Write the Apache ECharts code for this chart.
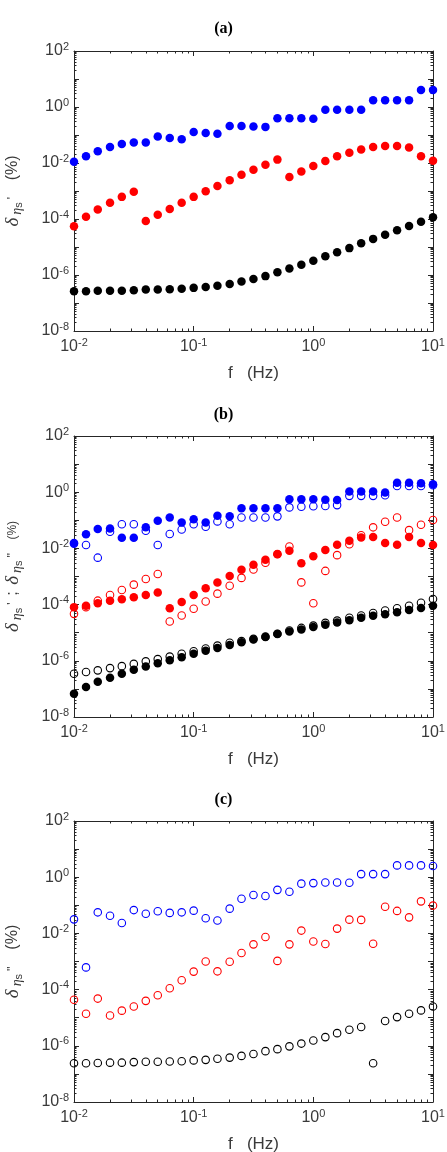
<!DOCTYPE html>
<html>
<head>
<meta charset="utf-8">
<script src="https://cdn.jsdelivr.net/npm/echarts@6/dist/echarts.min.js"></script>
<style>
  html, body { margin: 0; padding: 0; background: #fff; }
  #chart { width: 447px; height: 1152px; }
</style>
</head>
<body>
<div id="chart"></div>
<script>
// frequency (Hz), 10 points per decade
var freq = [0.01, 0.0126, 0.0158, 0.02, 0.0251, 0.0316, 0.0398, 0.0501, 0.0631, 0.0794,
            0.1, 0.126, 0.158, 0.2, 0.251, 0.316, 0.398, 0.501, 0.631, 0.794,
            1, 1.26, 1.58, 2, 2.51, 3.16, 3.98, 5.01, 6.31, 7.94, 10];

// (a) delta eta_s'  (%)
var aBlue = [1.1e-2, 1.74e-2, 2.63e-2, 3.72e-2, 4.79e-2, 5.37e-2, 5.37e-2, 8.91e-2, 7.76e-2, 7.08e-2,
             1.29e-1, 1.17e-1, 1.1e-1, 2.09e-1, 2.09e-1, 2.0e-1, 1.95e-1, 3.98e-1, 3.98e-1, 3.98e-1,
             3.8e-1, 7.94e-1, 7.94e-1, 7.94e-1, 7.94e-1, 1.74, 1.74, 1.74, 1.74, 4.07, 4.07];
var aRed = [5.5e-5, 1.2e-4, 2.19e-4, 3.8e-4, 6.17e-4, 9.33e-4, 8.51e-5, 1.41e-4, 2.29e-4, 3.8e-4,
            6.17e-4, 9.77e-4, 1.51e-3, 2.4e-3, 3.8e-3, 5.75e-3, 8.71e-3, 1.32e-2, 3.16e-3, 5.01e-3,
            7.76e-3, 1.17e-2, 1.74e-2, 2.34e-2, 3.02e-2, 3.72e-2, 4.07e-2, 4.07e-2, 3.55e-2, 1.74e-2, 1.2e-2];
var aBlack = [2.63e-7, 2.63e-7, 2.75e-7, 2.75e-7, 2.75e-7, 2.88e-7, 3.02e-7, 3.02e-7, 3.09e-7, 3.24e-7,
              3.47e-7, 3.72e-7, 4.17e-7, 4.79e-7, 5.89e-7, 7.24e-7, 9.12e-7, 1.26e-6, 1.70e-6, 2.34e-6,
              3.24e-6, 4.68e-6, 6.46e-6, 9.12e-6, 1.35e-5, 1.95e-5, 2.75e-5, 3.98e-5, 5.62e-5, 7.94e-5, 1.15e-4];

// (b) filled = eta_s', open = eta_s''
var bBlueF = [1.55e-2, 3.16e-2, 4.9e-2, 5.13e-2, 2.4e-2, 2.4e-2, 5.62e-2, 9.55e-2, 1.26e-1, 8.32e-2,
              1.1e-1, 8.32e-2, 1.45e-1, 1.38e-1, 2.69e-1, 2.69e-1, 2.69e-1, 2.69e-1, 5.62e-1, 5.62e-1,
              5.62e-1, 5.37e-1, 5.25e-1, 1.05, 1.05, 1.05, 0.98, 2.19, 2.19, 2.09, 1.91];
var bBlueO = [1.48e-2, 1.32e-2, 4.68e-3, 3.89e-2, 7.24e-2, 7.24e-2, 4.27e-2, 1.32e-2, 3.24e-2, 4.68e-2,
              7.24e-2, 5.89e-2, 9.12e-2, 7.24e-2, 1.26e-1, 1.26e-1, 1.26e-1, 1.38e-1, 2.88e-1, 3.02e-1,
              3.16e-1, 3.24e-1, 3.47e-1, 7.41e-1, 7.41e-1, 7.41e-1, 7.76e-1, 1.66, 1.66, 1.66, 1.78];
var bRedF = [8.13e-5, 9.12e-5, 1.12e-4, 1.38e-4, 1.55e-4, 1.82e-4, 2.19e-4, 2.69e-4, 7.41e-5, 1.23e-4,
             2.19e-4, 3.8e-4, 6.17e-4, 1.05e-3, 1.74e-3, 2.63e-3, 3.98e-3, 6.17e-3, 8.32e-3, 2.95e-3,
             5.25e-3, 8.71e-3, 1.35e-2, 1.86e-2, 2.45e-2, 2.57e-2, 1.55e-2, 1.35e-2, 2.57e-2, 1.55e-2, 1.32e-2];
var bRedO = [4.68e-5, 8.13e-5, 1.38e-4, 2.19e-4, 3.31e-4, 5.13e-4, 8.13e-4, 1.23e-3, 2.51e-5, 4.07e-5,
             7.08e-5, 1.29e-4, 2.45e-4, 4.68e-4, 8.91e-4, 1.78e-3, 3.09e-3, 6.31e-3, 1.17e-2, 6.17e-4,
             1.12e-4, 1.58e-3, 5.75e-3, 1.41e-2, 2.95e-2, 5.62e-2, 8.91e-2, 1.26e-1, 4.47e-2, 6.92e-2, 1.02e-1];
var bBlackF = [6.76e-8, 1.17e-7, 1.78e-7, 2.51e-7, 3.47e-7, 4.79e-7, 6.31e-7, 8.13e-7, 1.05e-6, 1.35e-6,
               1.78e-6, 2.29e-6, 2.88e-6, 3.63e-6, 4.57e-6, 5.75e-6, 7.08e-6, 8.91e-6, 1.10e-5, 1.29e-5,
               1.58e-5, 1.91e-5, 2.29e-5, 2.75e-5, 3.39e-5, 3.98e-5, 4.57e-5, 5.37e-5, 6.46e-5, 7.59e-5, 9.12e-5];
var bBlackO = [3.47e-7, 3.98e-7, 4.57e-7, 5.50e-7, 6.46e-7, 7.76e-7, 9.55e-7, 1.15e-6, 1.41e-6, 1.78e-6,
               2.19e-6, 2.75e-6, 3.47e-6, 4.37e-6, 5.01e-6, 6.03e-6, 7.24e-6, 9.12e-6, 1.20e-5, 1.48e-5,
               1.78e-5, 2.24e-5, 2.69e-5, 3.39e-5, 4.07e-5, 5.01e-5, 6.17e-5, 7.41e-5, 9.12e-5, 1.17e-4, 1.58e-4];

// (c) delta eta_s''  (%)
var cBlue = [3.16e-2, 6.17e-4, 5.62e-2, 4.27e-2, 2.34e-2, 6.76e-2, 5.01e-2, 6.17e-2, 5.37e-2, 5.62e-2,
             6.46e-2, 3.47e-2, 2.88e-2, 7.59e-2, 1.70e-1, 2.34e-1, 2.14e-1, 3.55e-1, 3.02e-1, 5.89e-1,
             6.17e-1, 6.46e-1, 6.46e-1, 6.31e-1, 1.29, 1.29, 1.29, 2.63, 2.63, 2.63, 2.51];
var cRed = [4.37e-5, 1.38e-5, 4.79e-5, 1.20e-5, 1.78e-5, 2.51e-5, 3.98e-5, 6.31e-5, 1.12e-4, 2.14e-4,
            4.37e-4, 1.0e-3, 4.47e-4, 9.77e-4, 2.0e-3, 4.07e-3, 7.41e-3, 1.05e-3, 4.07e-3, 1.26e-2,
            5.13e-3, 4.17e-3, 1.48e-2, 3.09e-2, 3.02e-2, 4.27e-3, 8.91e-2, 6.31e-2, 3.72e-2, 1.38e-1, 9.77e-2];
var cBlack = [2.40e-7, 2.40e-7, 2.45e-7, 2.51e-7, 2.51e-7, 2.63e-7, 2.69e-7, 2.69e-7, 2.75e-7, 2.82e-7,
              3.02e-7, 3.16e-7, 3.47e-7, 3.80e-7, 4.37e-7, 5.13e-7, 6.46e-7, 7.59e-7, 9.55e-7, 1.20e-6,
              1.55e-6, 2.04e-6, 2.82e-6, 3.72e-6, 4.68e-6, 2.40e-7, 7.59e-6, 1.05e-5, 1.38e-5, 1.82e-5, 2.51e-5];

// tick positions
var xMajor = [0.01, 0.1, 1, 10];
var yMajor = [1e-8, 1e-7, 1e-6, 1e-5, 1e-4, 1e-3, 1e-2, 1e-1, 1, 10, 100];
var yLabels = [1e-8, 1e-6, 1e-4, 1e-2, 1, 100];
var xMinor = [], yMinor = [];
[0.01, 0.1, 1].forEach(function (d) { for (var m = 2; m <= 9; m++) xMinor.push(+(m * d).toPrecision(3)); });
yMajor.slice(0, -1).forEach(function (d) { for (var m = 2; m <= 9; m++) yMinor.push(+(m * d).toPrecision(3)); });

var AXC = '#262626';
var TXC = '#3a3a3a';
var grids = [
  { left: 74, right: 14, top: 51, height: 280, outerBoundsMode: 'none' },
  { left: 74, right: 14, top: 436, height: 281, outerBoundsMode: 'none' },
  { left: 74, right: 14, top: 821, height: 281, outerBoundsMode: 'none' }
];

var tickRich = {
  b: { fontSize: 16, color: TXC, fontFamily: 'Liberation Sans', lineHeight: 20 },
  s: { fontSize: 11, color: TXC, fontFamily: 'Liberation Sans', verticalAlign: 'top', lineHeight: 11 }
};
function powFmt(v) {
  return '{b|10}{s|' + Math.round(Math.log10(v)) + '}';
}

var nameRich = {
  d: { fontSize: 19, fontFamily: 'Liberation Serif', fontStyle: 'italic', color: TXC, lineHeight: 22 },
  e: { fontSize: 14, fontFamily: 'Liberation Serif', fontStyle: 'italic', color: TXC, verticalAlign: 'bottom', lineHeight: 17, padding: [0, 0, 0, 3] },
  ss: { fontSize: 11, fontFamily: 'Liberation Sans', color: TXC, verticalAlign: 'bottom', lineHeight: 11 },
  p: { fontSize: 12, fontFamily: 'Liberation Sans', color: TXC, lineHeight: 22, padding: [0, 0, 0, 3] },
  u: { fontSize: 16, fontFamily: 'Liberation Sans', color: TXC, lineHeight: 22 },
  us: { fontSize: 12, fontFamily: 'Liberation Sans', color: TXC, lineHeight: 22 }
};
var yNames = [
  '{d|δ}{e|η}{ss|s}{p|\'}     {u|(%)}',
  '{d|δ}{e|η}{ss|s}{p|\'}  {u|;}  {d|δ}{e|η}{ss|s}{p|\'\'}    {us|(%)}',
  '{d|δ}{e|η}{ss|s}{p|\'\'}     {u|(%)}'
];

var xAxis = [], yAxis = [];
grids.forEach(function (g, i) {
  // bottom: labels + major ticks, then minor ticks; top: mirrored
  xAxis.push({
    gridIndex: i, type: 'log', logBase: 10, min: 0.01, max: 10, position: 'bottom',
    name: 'f   (Hz)', nameLocation: 'middle', nameGap: 34,
    nameTextStyle: { fontSize: 17, color: TXC, fontFamily: 'Liberation Sans' },
    axisLine: { lineStyle: { color: AXC, width: 1 } },
    axisTick: { inside: true, length: 5, customValues: xMajor, lineStyle: { color: AXC } },
    axisLabel: { customValues: xMajor, formatter: powFmt, rich: tickRich, margin: 6 },
    splitLine: { show: false }
  });
  xAxis.push({
    gridIndex: i, type: 'log', logBase: 10, min: 0.01, max: 10, position: 'bottom',
    axisLine: { show: false },
    axisTick: { inside: true, length: 2.5, customValues: xMinor, lineStyle: { color: AXC } },
    axisLabel: { show: false }, splitLine: { show: false }
  });
  xAxis.push({
    gridIndex: i, type: 'log', logBase: 10, min: 0.01, max: 10, position: 'top',
    axisLine: { lineStyle: { color: AXC, width: 1 } },
    axisTick: { inside: true, length: 5, customValues: xMajor, lineStyle: { color: AXC } },
    axisLabel: { show: false }, splitLine: { show: false }
  });
  xAxis.push({
    gridIndex: i, type: 'log', logBase: 10, min: 0.01, max: 10, position: 'top',
    axisLine: { show: false },
    axisTick: { inside: true, length: 2.5, customValues: xMinor, lineStyle: { color: AXC } },
    axisLabel: { show: false }, splitLine: { show: false }
  });

  yAxis.push({
    gridIndex: i, type: 'log', logBase: 10, min: 1e-8, max: 100, position: 'left',
    name: yNames[i], nameLocation: 'middle', nameRotate: 90, nameGap: 50,
    nameTextStyle: { rich: nameRich },
    axisLine: { lineStyle: { color: AXC, width: 1 } },
    axisTick: { inside: true, length: 5, customValues: yMajor, lineStyle: { color: AXC } },
    axisLabel: { customValues: yLabels, formatter: powFmt, rich: tickRich, margin: 5 },
    splitLine: { show: false }
  });
  yAxis.push({
    gridIndex: i, type: 'log', logBase: 10, min: 1e-8, max: 100, position: 'left',
    axisLine: { show: false },
    axisTick: { inside: true, length: 2.5, customValues: yMinor, lineStyle: { color: AXC } },
    axisLabel: { show: false }, splitLine: { show: false }
  });
  yAxis.push({
    gridIndex: i, type: 'log', logBase: 10, min: 1e-8, max: 100, position: 'right',
    axisLine: { lineStyle: { color: AXC, width: 1 } },
    axisTick: { inside: true, length: 5, customValues: yMajor, lineStyle: { color: AXC } },
    axisLabel: { show: false }, splitLine: { show: false }
  });
  yAxis.push({
    gridIndex: i, type: 'log', logBase: 10, min: 1e-8, max: 100, position: 'right',
    axisLine: { show: false },
    axisTick: { inside: true, length: 2.5, customValues: yMinor, lineStyle: { color: AXC } },
    axisLabel: { show: false }, splitLine: { show: false }
  });
});

function pts(ys) {
  return ys.map(function (y, k) { return [freq[k], y]; });
}
function dots(g, ys, color, open) {
  return {
    type: 'scatter', xAxisIndex: g * 4, yAxisIndex: g * 4, data: pts(ys),
    symbol: 'circle', symbolSize: open ? 7.5 : 8.5,
    itemStyle: open
      ? { color: 'transparent', borderColor: color, borderWidth: 1.1, opacity: 1 }
      : { color: color, opacity: 1 },
    emphasis: { disabled: true }, silent: true
  };
}

var series = [
  dots(0, aBlue, '#0000ff'), dots(0, aRed, '#ff0000'), dots(0, aBlack, '#000000'),
  dots(1, bBlueF, '#0000ff'), dots(1, bRedF, '#ff0000'), dots(1, bBlackF, '#000000'),
  dots(1, bBlueO, '#0000ff', true), dots(1, bRedO, '#ff0000', true), dots(1, bBlackO, '#000000', true),
  dots(2, cBlue, '#0000ff', true), dots(2, cRed, '#ff0000', true), dots(2, cBlack, '#000000', true)
];

var titleStyle = { fontSize: 16, fontWeight: 'bold', fontFamily: 'Liberation Serif', color: '#000' };
var myChart = echarts.init(document.getElementById('chart'));
myChart.setOption({
  animation: false,
  backgroundColor: '#fff',
  title: [
    { text: '(a)', left: 'center', top: 16, textStyle: titleStyle },
    { text: '(b)', left: 'center', top: 402, textStyle: titleStyle },
    { text: '(c)', left: 'center', top: 787, textStyle: titleStyle }
  ],
  grid: grids,
  xAxis: xAxis,
  yAxis: yAxis,
  series: series
});
</script>
</body>
</html>
